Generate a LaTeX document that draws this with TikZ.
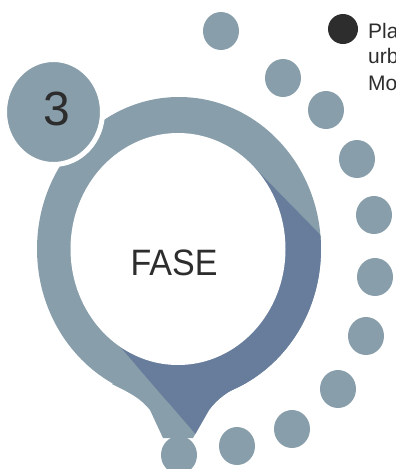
\documentclass[tikz,border=0pt]{standalone}
\usepackage{fontspec}
\setmainfont{Liberation Sans}
\usetikzlibrary{positioning,shapes.geometric}
\definecolor{ringlight}{RGB}{136,159,171}
\definecolor{ringdark}{RGB}{104,125,156}
\definecolor{inkgray}{RGB}{45,45,45}

\begin{document}
\begin{tikzpicture}[x=1pt,y=-1pt,
  bead/.style={ellipse,fill=ringlight,inner sep=0pt,minimum width=36pt,minimum height=38pt},
  badge/.style={ellipse,fill=ringlight,draw=white,line width=5pt,inner sep=0pt,minimum width=98pt,minimum height=105pt},
  legend/.style={anchor=base west,inner sep=0pt,text=inkgray,font=\fontsize{21}{26}\selectfont}]
  \useasboundingbox (0,0) rectangle (396,469);

  % ring with its drop
  \fill[ringlight] (179,249) ellipse [x radius=142, y radius=152];
  \fill[ringlight] (112,384) .. controls (132,394) and (140,398) .. (150,410) -- (163,438)
    -- (193,438) -- (209,410) .. controls (218,398) and (228,391) .. (246,383) -- (179,330) -- cycle;
  \begin{scope}
    \clip (178,249) -- (251,164) -- (440,357) -- (440,540) -- (287,540) -- (110,335) -- cycle;
    \fill[ringdark] (179,249) ellipse [x radius=142, y radius=152];
    \fill[ringdark] (112,384) .. controls (132,394) and (140,398) .. (150,410) -- (163,438)
      -- (193,438) -- (209,410) .. controls (218,398) and (228,391) .. (246,383) -- (179,330) -- cycle;
  \end{scope}
  \fill[white] (178,249) ellipse [x radius=107.5, y radius=116];
  \node[bead] (tip) at (179,455) {};

  \node[badge] (phase) at (53.5,112) {};
  \node[anchor=base,inner sep=0pt,text=inkgray,font=\fontsize{48}{48}\selectfont] (phasenum) at (57,125) {3};
  \node[anchor=base,inner sep=0pt,text=inkgray,font=\fontsize{34}{34}\selectfont] (fase) at (174,275) {\scalebox{1}[1.08]{FASE}};

  % dotted trail
  \foreach \x/\y [count=\i] in {167/-19.5,221/31,283/78,326/110,357/159,374/215,375/277,366/336,338/389,292/429,237/446}
    \node[bead] (b\i) at (\x,\y) {};

  \node[circle,fill=inkgray,inner sep=0pt,minimum size=30pt] (key) at (343,29) {};
  \node[legend] (k1) at (368,38) {Pla};
  \node[legend] (k2) at (368,63.5) {urb};
  \node[legend] (k3) at (368,90) {Mo};
\end{tikzpicture}
\end{document}
